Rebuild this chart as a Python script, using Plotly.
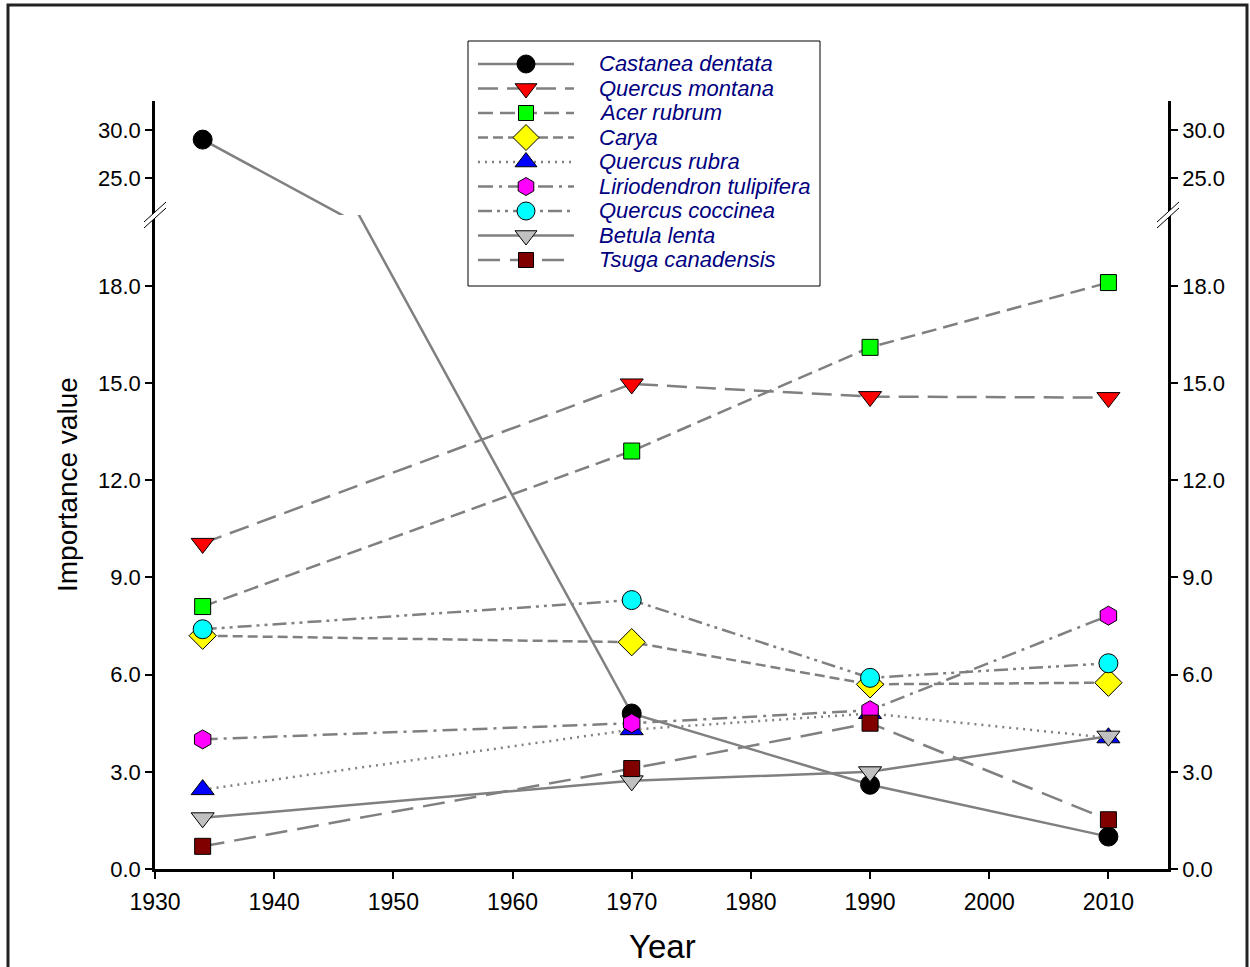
import plotly.graph_objects as go

years = [1934, 1970, 1990, 2010]

species = ["Castanea dentata", "Quercus montana", "Acer rubrum", "Carya",
           "Quercus rubra", "Liriodendron tulipifera", "Quercus coccinea",
           "Betula lenta", "Tsuga canadensis"]

castanea = [29.0, 4.8, 2.6, 1.0]
q_montana = [10.05, 14.97, 14.58, 14.55]
acer = [8.1, 12.9, 16.1, 18.1]
carya = [7.2, 7.0, 5.7, 5.75]
q_rubra = [2.45, 4.3, 4.8, 4.05]
lirio = [4.0, 4.5, 4.9, 7.82]
q_coccinea = [7.4, 8.3, 5.9, 6.35]
betula = [1.58, 2.72, 3.0, 4.1]
tsuga = [0.7, 3.1, 4.5, 1.52]

values = [castanea, q_montana, acer, carya, q_rubra, lirio, q_coccinea, betula, tsuga]

symbols = ["circle", "triangle-down", "square", "diamond", "triangle-up",
           "hexagon", "circle", "triangle-down", "square"]
colors = ["#000000", "#ff0000", "#00ff00", "#ffff00", "#0000ff",
          "#ff00ff", "#00ffff", "#c0c0c0", "#800000"]
sizes = [19, 20, 16, 21, 20, 19, 19, 20, 16]
dashes = ["solid", "20px,9px", "15px,7px", "10px,5px", "2px,5px",
          "15px,6px,3px,6px", "14px,5px,3px,5px,3px,5px", "solid", "22px,10px"]

lower_ticks = [0, 3, 6, 9, 12, 15, 18]
upper_ticks = [25, 30]
x_ticks = [1930, 1940, 1950, 1960, 1970, 1980, 1990, 2000, 2010]

# figure geometry (pixels); margins are zero so paper == whole figure
W, H = 1250, 967
L, R, T, B = 155, 1168, 101, 869
BREAK_PX = 215


def fx(x):
    return x / W


def fy(y):
    return 1 - y / H


FONT = "Liberation Sans, Arial"
lower_range = [0, (B - BREAK_PX) / 32.4]
upper_range = [25 - (BREAK_PX - 178) / 9.6, 30 + (130 - T) / 9.6]

fig = go.Figure()
for i, name in enumerate(species):
    common = dict(
        x=years, y=values[i], mode="lines+markers", name=name, showlegend=False,
        line=dict(color="#808080", width=2.5, dash=dashes[i]),
        marker=dict(symbol=symbols[i], color=colors[i], size=sizes[i],
                    line=dict(color="#000000", width=1)),
    )
    fig.add_trace(go.Scatter(**common, xaxis="x", yaxis="y"))
    if i == 0:
        fig.add_trace(go.Scatter(**common, xaxis="x", yaxis="y2"))

# dummy traces to activate right axes
fig.add_trace(go.Scatter(x=[None], y=[None], yaxis="y3", showlegend=False, hoverinfo="skip"))
fig.add_trace(go.Scatter(x=[None], y=[None], yaxis="y4", showlegend=False, hoverinfo="skip"))

# legend samples drawn on a hidden helper axis pair
for i, name in enumerate(species):
    fig.add_trace(go.Scatter(x=[0, 1], y=[i, i], mode="lines", xaxis="x2", yaxis="y5",
                             line=dict(color="#808080", width=2.5, dash=dashes[i]),
                             showlegend=False, hoverinfo="skip"))
    fig.add_trace(go.Scatter(x=[0.5], y=[i], mode="markers", xaxis="x2", yaxis="y5",
                             marker=dict(symbol=symbols[i], color=colors[i], size=sizes[i] - 1,
                                         line=dict(color="#000000", width=1)),
                             showlegend=False, hoverinfo="skip", cliponaxis=False))
    fig.add_annotation(text=name, xref="paper", yref="y5", x=fx(597), y=i,
                       xanchor="left", yanchor="middle", showarrow=False,
                       font=dict(family=FONT, size=22, color="#000080", style="italic"))

axis_common = dict(showline=True, linecolor="black", linewidth=2.5,
                   ticks="outside", ticklen=7, tickwidth=2, tickcolor="black",
                   showgrid=False, zeroline=False, automargin=False,
                   tickfont=dict(family=FONT, size=22, color="black"),
                   tickformat=".1f")

row0, row8 = 64, 260
step = (row8 - row0) / 8

fig.update_layout(
    template="none",
    width=W, height=H, autosize=False,
    margin=dict(l=0, r=0, t=0, b=0, pad=0, autoexpand=False),
    paper_bgcolor="white", plot_bgcolor="white",
    font=dict(family=FONT, color="black"),
    showlegend=False,
    xaxis=dict(domain=[fx(L), fx(R)], range=[1930, 2015], tickvals=x_ticks,
               showline=True, linecolor="black", linewidth=2.5, ticks="outside",
               ticklen=7, tickwidth=2, tickcolor="black", showgrid=False,
               zeroline=False, anchor="y", automargin=False, ticklabelstandoff=4,
               tickfont=dict(family=FONT, size=23, color="black")),
    yaxis=dict(domain=[fy(B), fy(BREAK_PX)], range=lower_range, tickvals=lower_ticks,
               anchor="x", side="left", **axis_common),
    yaxis2=dict(domain=[fy(BREAK_PX), fy(T)], range=upper_range,
                tickvals=upper_ticks, anchor="x", side="left", **axis_common),
    yaxis3=dict(overlaying="y", range=lower_range, tickvals=lower_ticks,
                anchor="x", side="right", **axis_common),
    yaxis4=dict(overlaying="y2", range=upper_range,
                tickvals=upper_ticks, anchor="x", side="right", **axis_common),
    xaxis2=dict(domain=[fx(478), fx(574)], range=[0, 1], visible=False,
                anchor="y5", fixedrange=True, automargin=False),
    yaxis5=dict(domain=[fy(row8 + step / 2), fy(row0 - step / 2)], range=[8.5, -0.5],
                visible=False, anchor="x2", fixedrange=True, automargin=False),
)

# legend box (behind samples)
fig.add_shape(type="rect", xref="paper", yref="paper", x0=fx(468), y0=fy(286),
              x1=fx(820), y1=fy(41), line=dict(color="black", width=1),
              fillcolor="white", layer="below")

# axis titles
fig.add_annotation(text="Importance value", xref="paper", yref="paper",
                   x=fx(67), y=fy(485), textangle=-90, showarrow=False,
                   xanchor="center", yanchor="middle",
                   font=dict(family=FONT, size=28, color="black"))
fig.add_annotation(text="Year", xref="paper", yref="paper",
                   x=fx(662), y=fy(946), showarrow=False,
                   xanchor="center", yanchor="middle",
                   font=dict(family=FONT, size=33, color="black"))

# axis break marks
for ax_x in (L, R):
    x0, x1 = ax_x - 11, ax_x + 11
    a = (fx(x0), fy(BREAK_PX + 7))
    b = (fx(x1), fy(BREAK_PX - 13))
    c = (fx(x1), fy(BREAK_PX - 7))
    d = (fx(x0), fy(BREAK_PX + 13))
    path = f"M{a[0]},{a[1]} L{b[0]},{b[1]} L{c[0]},{c[1]} L{d[0]},{d[1]} Z"
    fig.add_shape(type="path", path=path, xref="paper", yref="paper",
                  fillcolor="white", line=dict(width=0), layer="above")
    for p0, p1 in ((a, b), (d, c)):
        fig.add_shape(type="line", xref="paper", yref="paper",
                      x0=p0[0], y0=p0[1], x1=p1[0], y1=p1[1],
                      line=dict(color="black", width=1), layer="above")

# outer frame
fig.add_shape(type="path", xref="paper", yref="paper",
              path=f"M{fx(8)},0 L{fx(8)},{fy(5)} L{fx(1247)},{fy(5)} L{fx(1247)},0",
              line=dict(color="#222222", width=3), layer="above")

fig.write_html("out.html",
               config={"displayModeBar": False, "responsive": False},
               post_script="document.body.style.margin='0px';")
